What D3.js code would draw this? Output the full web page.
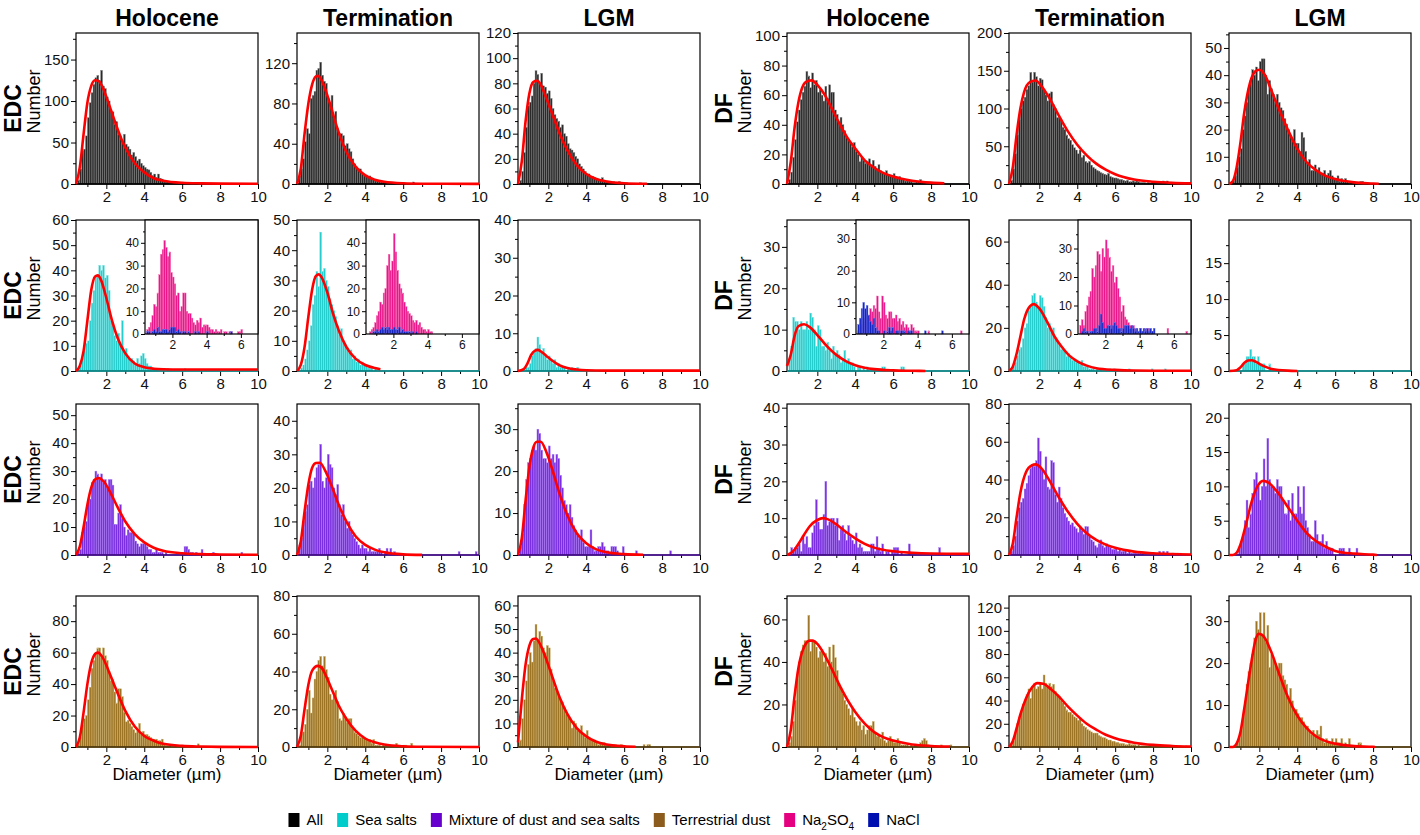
<!DOCTYPE html>
<html>
<head>
<meta charset="utf-8">
<title>size distributions</title>
<style>
  body { margin: 0; background: #fff; }
  svg { font-family: "Liberation Sans", Arial, sans-serif; }
</style>
</head>
<body>
<svg width="1420" height="835"></svg>
<script src="https://d3js.org/d3.v7.min.js"></script>
<script>

// histogram bins: 0.1 um wide, first bin starts at 0.4 um
var binStart = 0.4, binWidth = 0.1;

var periods = ["Holocene", "Termination", "LGM", "Holocene", "Termination", "LGM"];
var sites = ["EDC", "DF"];
var legendNames = ["All", "Sea salts", "Mixture of dust and sea salts", "Terrestrial dust", "Na2SO4", "NaCl"];
var xTicks = [2, 4, 6, 8, 10];
var xMinor = [1, 3, 5, 7, 9];
var insetTicks = [2, 4, 6];

// ---- All particles
var edcAllHol = [0,5,18,40,42,58,80,98,110,120, 128,131,125,137,118,115,105,100,88,87, 72,75,60,58,52,60,48,45,42,35, 38,33,28,30,25,22,20,18,17,14, 10,12,8,12,7,6,4,3,3,2, 2,1,1,1,0,1,0,2,0,1];
var edcAllTer = [0,8,15,25,42,55,50,85,88,92, 113,115,121,108,102,100,85,80,88,65, 72,55,50,50,48,38,40,35,32,25, 20,17,15,15,10,8,9,7,8,6, 5,3,3,3,2,2,2,1,1,1, 1,1,1,1,1,1,1,0,0,0, 0,2];
var edcAllLgm = [0,3,10,25,45,62,65,70,80,90, 87,80,88,78,77,72,74,68,60,55, 52,50,45,47,40,38,32,28,27,25, 22,20,16,14,12,10,8,8,6,6, 5,4,4,3,5,3,2,2,2,1, 2,1,1,2,1,0,1,1,0,0, 0,0,0,0,1];
var dfAllHol = [0,3,8,18,30,42,50,57,62,66, 76,73,65,75,67,70,62,64,60,56, 66,58,67,62,62,50,47,42,45,40, 36,32,30,28,25,28,22,20,15,18, 16,14,15,17,13,16,12,10,13,9, 8,7,9,6,6,5,7,5,4,5, 3,3,2,2,2,2,1,1,2,2, 3,2,1,0,0,1,0,0,1,1];
var dfAllTer = [0,5,20,40,65,85,100,110,115,125, 130,148,135,148,142,130,140,138,125,118, 110,120,122,105,100,88,88,85,75,72, 65,60,58,52,48,45,40,45,35,38, 30,28,30,25,22,20,18,17,15,14, 13,12,14,10,9,8,8,7,6,6, 5,4,5,3,3,4,3,4,3,2, 2,2,1,2,1,1,1,1,1,2, 1,4,3,4,1,2,1,1,0,0, 1,2,0,1];
var dfAllLgm = [0,0,1,3,6,10,13,20,25,30, 35,38,42,40,43,38,45,46,46,40, 33,38,35,33,30,33,30,28,27,24, 22,20,18,16,20,15,15,12,19,17, 12,8,9,5,5,7,5,6,4,4, 5,3,4,5,3,2,2,3,1,2, 1,2,1,0,1,1,0,0,0,1, 1];

// ---- Sea salts
var edcSeaHol = [0,1,2,5,8,11,12,20,27,32, 38,38,42,40,42,37,38,32,20,18, 14,12,15,11,20,8,9,6,5,5, 4,3,5,3,6,7,5,3,2,2, 1,1,1,0,0,0,0,0,1,0, 0,0,0,0,0,0,0,1];
var edcSeaTer = [0,0,1,2,4,7,10,15,22,25, 33,28,46,33,34,30,28,24,22,20, 18,15,12,14,10,9,8,6,7,4, 5,3,4,2,3,2,2,1,1,1, 0,1];
var edcSeaLgm = [0,0,0,0,1,1,2,4,5,6, 9,7,5,6,4,3,4,3,2,3, 1,2,1,1,1,0,1,0,1,0, 0,1];
var dfSeaHol = [0,3,6,13,12,12,10,12,10,10, 12,10,14,13,10,6,11,10,6,6, 5,7,5,3,6,4,5,4,2,3, 5,2,3,2,2,1,0,1,1,0, 1,0,1,0,0,0,0,0,0,0, 1,1,0,0,0,0,0,0,0,0, 1,1];
var dfSeaTer = [0,1,2,4,7,10,11,15,20,22, 28,30,35,36,32,30,35,34,30,25, 20,22,18,20,15,14,12,10,11,9, 7,8,6,5,5,4,4,3,5,2, 2,2,1,1,1,0,1,0,1,0, 0,0,0,1,0,1,0,0,0,0, 0,0,0,1,0,0,0,0,0,0, 0,0,0,0,0,1,0,0,0,0, 0,0,1];
var dfSeaLgm = [0,0,0,0,0,0,0,1,1,2, 2,3,2,2,1,2,1,1,1,0, 0,1];

// ---- inset sea salt types (Na2SO4, NaCl)
var edcHolNa2so4 = [0,2,3,5,8,13,12,18,26,35, 37,41,38,34,36,27,25,22,17,18, 10,12,18,18,10,9,9,7,5,4, 6,5,7,3,4,4,4,3,2,2, 1,2,1,1,2,0,1,1,0,1, 1,0,0,0,1,1,2];
var edcHolNacl = [0,1,1,0,1,2,1,3,1,1, 2,2,2,1,2,3,3,3,1,2, 1,0,1,1,0,1,0,0,0,1, 0,1,0,0,0,0,1,0,0,0, 0,0,0,0,0,0,0,0,0,0, 1];
var edcTerNa2so4 = [0,0,1,2,3,5,8,10,14,13, 18,20,30,35,28,32,44,36,28,22, 20,18,14,12,10,9,8,6,5,6, 4,5,3,2,2,1,2,1,1];
var edcTerNacl = [0,0,0,0,1,1,2,1,2,3, 2,3,2,3,2,2,3,2,2,3, 1,2,1,1,1,1,0,1,0,1];
var dfHolNa2so4 = [0,1,2,3,5,4,6,5,8,7, 9,8,12,7,5,12,10,6,5,7, 7,5,5,6,4,5,3,4,2,3, 2,1,3,2,1,1,1,0,0,0, 0,0,1,0,0,0,0,0,0,0, 0,0,0,0,0,0,0,0,0,0, 0,1];
var dfHolNacl = [0,3,5,8,10,8,9,6,4,3, 5,2,1,1,0,0,1,0,1,2, 1,2,0,1,1,0,1,1,1,0, 1,1,1,0,0,0,0,0,0,0, 1,0,0,0,0,0,0,0,0,0, 1];
var dfTerNa2so4 = [0,3,5,3,8,10,13,15,23,20, 24,29,28,22,30,27,33,30,27,22, 24,18,20,16,13,8,10,6,5,4, 3,2,3,2,1,1,2,1,0,2, 1,2,1,1,0,0,0,0,0,0, 0,0,2,0,0,0,0,0,0,0, 0,0,0,1];
var dfTerNacl = [0,0,1,2,1,1,0,1,1,2, 2,1,3,7,4,2,2,3,3,2, 3,4,3,2,2,1,2,3,3,3, 2,3,2,1,2,1,2,1,2,1, 2,1,2,1,2];

// ---- Mixture of dust and sea salts
var edcMixHol = [0,1,2,8,10,12,19,20,26,27, 30,29,27,29,26,27,24,27,27,25, 11,11,15,18,13,10,7,9,8,8, 8,5,4,3,4,4,4,3,2,2, 1,1,2,1,1,1,0,1,0,0, 0,0,0,0,0,0,0,3,3,2, 1,1,0,1,0,0,2,0,0,0, 0,0,1,0,0,0,0,0,0,0, 0,0,0,0,0,0,0,1];
var edcMixTer = [0,3,5,10,13,15,21,22,20,23, 26,27,33,22,20,23,30,27,26,20, 18,21,15,12,15,10,8,10,7,6, 5,4,3,2,3,2,2,1,2,1, 1,1,1,2,1,0,1,2,0,2, 0,1,0,0,0,0,0,0,0,0, 0,0,0,0,0,0,0,0,0,0, 0,0,0,0,0,0,0,0,0,0, 0,0,0,0,0,1,0,0,0,0, 0,0,0,0,1];
var edcMixLgm = [0,2,5,12,18,22,23,25,26,25, 30,29,25,23,23,22,26,23,24,22, 24,23,19,16,13,12,10,12,9,7, 6,5,4,6,3,2,2,2,6,2, 1,1,2,2,3,2,1,1,0,2, 2,2,1,0,0,2,0,0,0,0, 0,0,1,0,0,0,0,0,0,0, 0,0,0,0,0,0,0,0,0,0, 1];
var dfMixHol = [0,0,2,1,2,2,3,1,5,3, 5,2,2,6,8,15,9,7,7,11, 20,8,9,10,10,8,10,4,7,8, 6,4,8,5,4,3,6,2,3,2, 1,1,1,1,3,3,1,5,2,1, 3,0,1,1,0,1,2,2,2,0, 1,0,0,0,3,0,0,0,0,0, 0,0,0,0,0,0,0,0,0,0, 2];
var dfMixTer = [0,2,5,10,18,25,28,30,35,38, 42,46,48,47,50,62,55,45,40,52, 36,35,50,49,32,28,36,30,25,22, 20,18,16,17,15,14,12,15,13,11, 15,15,10,8,7,5,4,6,8,5, 4,6,5,4,3,3,4,2,3,2, 2,3,1,2,1,1,2,1,1,2, 1,0,0,0,0,0,0,0,0,2, 1,2,1,2,0,0,1,0,0,1, 1];
var dfMixLgm = [0,0,0,0,0,1,2,3,5,8, 4,6,9,11,12,10,8,10,14,10, 17,11,10,10,9,11,10,10,8,6, 6,8,5,9,6,6,10,7,6,10, 5,4,3,2,2,5,3,2,2,3, 1,2,1,1,1,0,0,0,1,1, 1,0,0,1,0,0,0,1];

// ---- Terrestrial dust
var edcTerHol = [0,2,6,14,18,20,30,38,50,55, 60,63,63,57,63,58,55,48,42,43, 35,28,37,37,32,22,16,17,15,13, 11,9,10,15,8,10,8,8,7,6, 5,5,5,4,4,5,2,1,1,1, 0,0,1,0,0,0,0,0,0,0, 0,0,0,0,2];
var edcTerTer = [0,1,7,8,12,20,30,18,26,36, 40,46,48,43,48,41,37,28,25,27, 30,24,15,14,18,16,13,15,15,10, 8,7,6,5,5,5,4,4,4,2, 4,1,1,1,0,1,0,0,0,1, 1,1,2,1,0,0,1,1,0,0, 2];
var edcTerLgm = [2,3,12,20,28,35,40,36,45,52, 45,49,47,42,40,43,42,33,28,25, 24,22,20,19,17,14,13,12,8,11, 10,7,7,9,5,4,7,4,3,3, 3,2,1,2,2,2,1,1,1,0, 1,1,0,0,1,0,0,0,0,0, 0,0,0,0,0,0,1,0,1,1];
var dfTerHol = [0,2,5,12,22,32,40,45,48,50, 50,62,45,50,50,47,42,45,46,40, 44,38,47,40,48,42,36,30,28,25, 22,20,18,15,18,14,12,10,12,8, 10,6,8,10,10,12,7,5,6,4, 7,3,2,3,5,3,2,2,4,2, 1,1,1,1,0,1,0,1,1,1, 2,3,4,3,1,0,0,0,0,0, 0,1,0,0,0,0,1];
var dfTerTer = [0,2,5,12,20,25,30,37,40,45, 50,42,52,55,50,52,55,50,62,55, 52,55,52,54,48,45,44,40,38,35, 32,30,30,28,26,25,23,25,20,18, 17,15,14,13,12,12,12,10,9,8, 8,7,6,6,5,5,4,4,3,3, 3,2,2,3,2,2,2,1,2,1, 1,1,1,1,1,0,0,1,1,1, 1,0,0,0,0,0,0,0,0,0, 1,0,0,1];
var dfTerLgm = [0,0,0,0,1,2,4,7,10,15, 18,20,22,26,30,28,32,27,32,25, 29,19,22,21,20,19,20,20,17,16, 15,12,14,11,9,9,8,7,7,6, 5,5,4,3,4,3,4,3,5,2, 1,2,1,1,2,1,2,1,1,2, 0,1,0,2,0,0,0,0,1,1];

// ---- fitted curves, [diameter, number]
var fitEdcAllHol = [[0.4,0],[0.6,20],[0.8,60],[1.0,98],[1.2,118],[1.4,125],[1.6,124],[1.8,117],[2.0,105],[2.2,92],[2.5,72],[2.8,54],[3.0,44],[3.5,25],[4.0,14],[4.5,7],[5,4],[6,1.5],[7,0.8],[8,0.5],[10,0.3]];
var fitEdcAllTer = [[0.4,0],[0.6,15],[0.8,50],[1.0,80],[1.2,99],[1.4,107],[1.5,107.5],[1.7,103],[2.0,88],[2.2,76],[2.5,57],[2.8,41],[3.0,32],[3.5,17],[4.0,8.5],[4.5,4.3],[5,2.2],[6,0.7],[7,0.3],[10,0.1]];
var fitEdcAllLgm = [[0.4,0],[0.6,18],[0.8,50],[1.0,72],[1.2,81],[1.4,82],[1.6,79],[1.8,72],[2.0,64],[2.3,52],[2.6,40],[3.0,27],[3.5,15],[4.0,8],[4.5,4.2],[5,2.2],[6,0.6],[7,0.2],[7.2,0.15]];
var fitDfAllHol = [[0.4,0],[0.6,15],[0.8,38],[1.0,55],[1.2,65],[1.4,69],[1.7,70],[2.0,67],[2.4,60],[2.8,50],[3.2,40],[3.6,31],[4.0,24],[4.5,16],[5,11],[5.5,7.3],[6,5],[7,2.2],[8,0.9],[8.7,0.5]];
var fitDfAllTer = [[0.4,0],[0.6,22],[0.8,65],[1.0,100],[1.2,122],[1.5,135],[1.8,137],[2.1,130],[2.5,115],[3.0,92],[3.5,70],[4.0,52],[4.5,38],[5,27],[5.5,19],[6,13],[7,6],[8,3],[9,1.5],[10,0.8]];
var fitDfAllLgm = [[0.4,0],[0.6,1],[0.8,6],[1.0,15],[1.2,26],[1.5,37],[1.8,41.5],[2.0,42],[2.3,40],[2.6,35],[3.0,28],[3.5,20],[4.0,13],[4.5,8],[5,5],[5.5,3],[6,1.8],[7,0.6],[8,0.2],[8.3,0.1]];

var fitEdcSeaHol = [[0.4,0],[0.6,2],[0.8,8],[1.0,20],[1.2,32],[1.4,37.5],[1.55,38],[1.7,36.5],[2.0,29],[2.3,20],[2.6,13],[3.0,7],[3.5,3],[4.0,1.5],[4.5,0.9],[5,0.7],[6,0.6],[10,0.6]];
var fitEdcSeaTer = [[0.4,0],[0.6,2],[0.8,8],[1.0,18],[1.2,27],[1.4,31.5],[1.55,32],[1.7,31],[2.0,26],[2.3,19],[2.6,13.5],[3.0,8],[3.5,4],[4.0,2],[4.5,1],[4.8,0.6]];
var fitEdcSeaLgm = [[0.4,0],[0.7,0.5],[0.9,2],[1.1,4.3],[1.3,5.4],[1.45,5.6],[1.6,5.2],[1.9,4],[2.2,2.8],[2.6,1.5],[3.0,0.8],[3.5,0.4],[4,0.2],[5,0.1],[10,0.1]];
var fitDfSeaHol = [[0.4,1.2],[0.6,4],[0.8,8.5],[1.0,10.8],[1.3,11.3],[1.6,10.6],[2.0,8.7],[2.5,6],[3.0,3.9],[3.5,2.4],[4.0,1.4],[4.5,0.8],[5,0.45],[6,0.15],[7,0.05],[7.7,0]];
var fitDfSeaTer = [[0.4,0],[0.6,2],[0.8,8],[1.0,16],[1.2,24],[1.5,30],[1.7,31],[2.0,29],[2.4,23],[2.8,16],[3.2,11],[3.6,7],[4.0,4.5],[4.5,2.5],[5,1.3],[6,0.5],[7,0.2],[10,0.1]];
var fitDfSeaLgm = [[0.4,0],[0.8,0.1],[1.0,0.5],[1.2,1.1],[1.4,1.45],[1.6,1.5],[1.8,1.3],[2.0,1.0],[2.3,0.6],[2.6,0.3],[3.0,0.15],[3.5,0.05],[4,0]];

var fitEdcMixHol = [[0.4,0],[0.6,3],[0.8,10],[1.0,18],[1.2,24],[1.4,27],[1.6,27.5],[1.9,26],[2.2,22.5],[2.6,17],[3.0,12],[3.5,7.5],[4.0,4.5],[4.5,2.6],[5,1.5],[6,0.6],[7,0.3],[8,0.2],[10,0.1]];
var fitEdcMixTer = [[0.4,0],[0.6,4],[0.8,13],[1.0,21],[1.2,26],[1.4,27.4],[1.6,27.5],[1.9,25],[2.2,21],[2.6,15],[3.0,10],[3.5,5.5],[4.0,3],[4.5,1.6],[5,0.8],[6,0.2],[7,0.05]];
var fitEdcMixLgm = [[0.4,0],[0.6,4],[0.8,13],[1.0,21],[1.2,25.5],[1.4,27],[1.6,27],[1.9,24.5],[2.2,20.5],[2.6,14.5],[3.0,9.5],[3.5,5.2],[4.0,2.8],[4.5,1.4],[5,0.7],[6,0.2],[7,0.05]];
var fitDfMixHol = [[0.4,0],[0.6,0.5],[0.8,1.5],[1.0,3],[1.3,5.5],[1.6,7.8],[2.0,9.5],[2.3,10],[2.6,9.6],[3.0,8.3],[3.5,6.3],[4.0,4.5],[4.5,3],[5,2],[6,1],[7,0.6],[8,0.4],[10,0.3]];
var fitDfMixTer = [[0.4,0],[0.6,6],[0.8,20],[1.0,33],[1.3,44],[1.6,47.5],[1.8,48],[2.1,46],[2.5,40],[3.0,31],[3.5,23],[4.0,16.5],[4.5,11.5],[5,8],[5.5,5.5],[6,3.8],[7,1.8],[8,0.9],[9,0.5],[10,0.3]];
var fitDfMixLgm = [[0.4,0],[0.6,0],[0.8,0.3],[1.0,1.5],[1.3,4.5],[1.6,7.8],[1.9,10],[2.2,10.8],[2.5,10.5],[3.0,9],[3.5,7],[4.0,5],[4.5,3.2],[5,2],[5.5,1.2],[6,0.6],[7,0.2],[8,0.05],[8.2,0]];

var fitEdcTerHol = [[0.4,0],[0.6,6],[0.8,22],[1.0,40],[1.2,53],[1.4,59],[1.55,60],[1.8,57],[2.1,49],[2.5,37],[3.0,23],[3.5,13],[4.0,7],[4.5,4],[5,2],[6,0.7],[7,0.3],[8,0.1],[10,0]];
var fitEdcTerTer = [[0.4,0],[0.6,6],[0.8,20],[1.0,33],[1.2,40.5],[1.5,43],[1.7,42],[2.0,36],[2.3,29],[2.6,22],[3.0,15],[3.5,8.5],[4.0,4.5],[4.5,2.5],[5,1.3],[6,0.4],[7,0.15],[10,0]];
var fitEdcTerLgm = [[0.4,2],[0.6,20],[0.8,35],[1.0,43],[1.2,45.8],[1.35,46],[1.6,43],[1.9,37],[2.2,30],[2.6,21],[3.0,14],[3.5,8],[4.0,4.5],[4.5,2.3],[5,1.2],[6,0.3],[6.6,0.1]];
var fitDfTerHol = [[0.4,0],[0.6,8],[0.8,24],[1.0,37],[1.3,47],[1.6,50],[1.75,50],[2.0,48.5],[2.4,43],[2.8,36],[3.2,28.5],[3.6,22],[4.0,16.5],[4.5,11],[5,7],[5.5,4.5],[6,3],[7,1.2],[8,0.5],[9,0.2]];
var fitDfTerTer = [[0.4,0],[0.6,5],[0.8,16],[1.0,28],[1.3,42],[1.6,51],[1.9,55],[2.2,54.5],[2.6,50],[3.0,44],[3.5,35],[4.0,27],[4.5,20],[5,15],[5.5,10.5],[6,7.5],[7,3.7],[8,1.8],[9,0.9],[10,0.4]];
var fitDfTerLgm = [[0.4,0],[0.6,0],[0.8,0.8],[1.0,3.5],[1.2,9],[1.5,18],[1.8,25.5],[1.95,27],[2.2,26.5],[2.6,23],[3.0,18],[3.5,12],[4.0,7.5],[4.5,4.5],[5,2.5],[5.5,1.4],[6,0.8],[7,0.2],[8,0.05],[8.1,0]];

// y axis ranges and ticks per panel (rows = particle group, cols = site x period)
var yMaxGrid = [
  [182, 150, 120, 102, 200, 55.5],
  [60, 50, 40, 36.5, 70, 21],
  [54, 45, 36, 41, 80, 22],
  [96, 80, 64, 71, 130, 36]
];
var yTickGrid = [
  [[0,50,100,150], [0,40,80,120], [0,20,40,60,80,100,120], [0,20,40,60,80,100], [0,50,100,150,200], [0,10,20,30,40,50]],
  [[0,10,20,30,40,50,60], [0,10,20,30,40,50], [0,10,20,30,40], [0,10,20,30], [0,20,40,60], [0,5,10,15]],
  [[0,10,20,30,40,50], [0,10,20,30,40], [0,10,20,30], [0,10,20,30,40], [0,20,40,60,80], [0,5,10,15,20]],
  [[0,20,40,60,80], [0,20,40,60,80], [0,10,20,30,40,50,60], [0,20,40,60], [0,20,40,60,80,100,120], [0,10,20,30]]
];

var countsGrid = [
  [edcAllHol, edcAllTer, edcAllLgm, dfAllHol, dfAllTer, dfAllLgm],
  [edcSeaHol, edcSeaTer, edcSeaLgm, dfSeaHol, dfSeaTer, dfSeaLgm],
  [edcMixHol, edcMixTer, edcMixLgm, dfMixHol, dfMixTer, dfMixLgm],
  [edcTerHol, edcTerTer, edcTerLgm, dfTerHol, dfTerTer, dfTerLgm]
];
var fitGrid = [
  [fitEdcAllHol, fitEdcAllTer, fitEdcAllLgm, fitDfAllHol, fitDfAllTer, fitDfAllLgm],
  [fitEdcSeaHol, fitEdcSeaTer, fitEdcSeaLgm, fitDfSeaHol, fitDfSeaTer, fitDfSeaLgm],
  [fitEdcMixHol, fitEdcMixTer, fitEdcMixLgm, fitDfMixHol, fitDfMixTer, fitDfMixLgm],
  [fitEdcTerHol, fitEdcTerTer, fitEdcTerLgm, fitDfTerHol, fitDfTerTer, fitDfTerLgm]
];

var insets = [
  {col: 0, na: edcHolNa2so4, cl: edcHolNacl, yMax: 50, yTicks: [0,10,20,30,40]},
  {col: 1, na: edcTerNa2so4, cl: edcTerNacl, yMax: 50, yTicks: [0,10,20,30,40]},
  {col: 3, na: dfHolNa2so4, cl: dfHolNacl, yMax: 36, yTicks: [0,10,20,30]},
  {col: 4, na: dfTerNa2so4, cl: dfTerNacl, yMax: 40, yTicks: [0,10,20,30]}
];

// styles
var rowStyle = [
  {fill: "#2a2a2a", stroke: "#8a8a8a", base: "#000"},
  {fill: "#25cdcd", stroke: "#93e9e9", base: "#0a9d9d"},
  {fill: "#7a2ee0", stroke: "#ae86f0", base: "#4d0c9c"},
  {fill: "#9c7424", stroke: "#d0b476", base: "#5e430f"}
];
var naStyle = {fill: "#e8168a", stroke: "#f47cbc"};
var clStyle = {fill: "#1424c2", stroke: "#6775e8"};
var legendColors = ["#000000", "#00cccc", "#6600cc", "#8c5c1f", "#e4007f", "#0010b0"];

var svg = d3.select("svg");
var colLeft = [76, 297, 518, 787, 1009, 1229];
var rowTop = [33, 220, 404, 596];
var panelW = 182, panelH = 151;
var insetW = 113, insetH = 114;

function drawBars(g, counts, x, y, st) {
  var bins = counts.map(function(n, i) { return {x0: binStart + i * binWidth, n: n}; })
    .filter(function(d) { return d.n > 0; });
  var bw = x(binStart + binWidth) - x(binStart);
  g.append("g").selectAll("rect")
    .data(bins)
    .join("rect")
      .attr("x", function(d) { return x(d.x0); })
      .attr("y", function(d) { return y(d.n); })
      .attr("width", bw)
      .attr("height", function(d) { return y(0) - y(d.n); })
      .attr("fill", st.fill)
      .attr("stroke", st.stroke)
      .attr("stroke-width", 0.4);
}

function styleAxis(a, size) {
  a.select(".domain").remove();
  a.attr("font-family", null).attr("font-size", size);
  a.selectAll("line").attr("stroke", "#000").attr("stroke-width", 1);
  a.selectAll("text").attr("fill", "#111");
}

function drawAxes(g, x, y, w, h, yTicks, yMax, xt, xm, size, major, minor) {
  var step = yTicks[1] - yTicks[0];
  var yMinor = d3.range(step / 2, yMax, step);
  g.append("g").call(d3.axisLeft(y).tickValues(yMinor).tickSize(minor).tickFormat(""))
    .call(styleAxis, size);
  g.append("g").call(d3.axisLeft(y).tickValues(yTicks).tickSize(major).tickPadding(2).tickFormat(d3.format("d")))
    .call(styleAxis, size);
  g.append("g").attr("transform", "translate(0," + h + ")")
    .call(d3.axisBottom(x).tickValues(xm).tickSize(minor).tickFormat(""))
    .call(styleAxis, size);
  g.append("g").attr("transform", "translate(0," + h + ")")
    .call(d3.axisBottom(x).tickValues(xt).tickSize(major).tickPadding(2).tickFormat(d3.format("d")))
    .call(styleAxis, size);
  g.append("rect").attr("width", w).attr("height", h)
    .attr("fill", "none").attr("stroke", "#000").attr("stroke-width", 1.2);
}

function drawPanel(r, c) {
  var g = svg.append("g").attr("transform", "translate(" + colLeft[c] + "," + rowTop[r] + ")");
  var x = d3.scaleLinear().domain([0.4, 10]).range([0, panelW]);
  var y = d3.scaleLinear().domain([0, yMaxGrid[r][c]]).range([panelH, 0]);
  var st = rowStyle[r];

  drawBars(g, countsGrid[r][c], x, y, st);
  drawAxes(g, x, y, panelW, panelH, yTickGrid[r][c], yMaxGrid[r][c], xTicks, xMinor, 15, 5, 3);

  // empty bins leave the series outline along the baseline
  g.append("line")
    .attr("x1", 0).attr("x2", panelW)
    .attr("y1", panelH).attr("y2", panelH)
    .attr("stroke", st.base).attr("stroke-width", 1.4);

  var line = d3.line()
    .curve(d3.curveMonotoneX)
    .x(function(d) { return x(d[0]); })
    .y(function(d) { return y(d[1]); });
  g.append("path")
    .datum(fitGrid[r][c])
    .attr("fill", "none")
    .attr("stroke", "#ff0000")
    .attr("stroke-width", 2.6)
    .attr("stroke-linejoin", "round")
    .attr("d", line);
  return g;
}

var panelGroups = [];
for (var r = 0; r < 4; r++) {
  panelGroups.push([]);
  for (var c = 0; c < 6; c++) panelGroups[r].push(drawPanel(r, c));
}

// insets with Na2SO4 / NaCl for the sea salt row
insets.forEach(function(ins) {
  var ig = panelGroups[1][ins.col].append("g")
    .attr("transform", "translate(" + (panelW - insetW) + ",0)");
  var x = d3.scaleLinear().domain([0.4, 7]).range([0, insetW]);
  var y = d3.scaleLinear().domain([0, ins.yMax]).range([insetH, 0]);
  ig.append("rect").attr("width", insetW).attr("height", insetH).attr("fill", "#fff");
  drawBars(ig, ins.na, x, y, naStyle);
  drawBars(ig, ins.cl, x, y, clStyle);
  drawAxes(ig, x, y, insetW, insetH, ins.yTicks, ins.yMax, insetTicks, [1, 3, 5], 12, 4, 2);
});

// column titles
periods.forEach(function(p, c) {
  svg.append("text")
    .attr("x", colLeft[c] + panelW / 2)
    .attr("y", 26)
    .attr("text-anchor", "middle")
    .attr("font-size", 23)
    .attr("font-weight", "bold")
    .text(p);
});

// row labels
rowTop.forEach(function(t) {
  [0, 3].forEach(function(c, s) {
    var cy = t + panelH / 2;
    svg.append("text")
      .attr("transform", "translate(" + (colLeft[c] - 55) + "," + cy + ") rotate(-90)")
      .attr("text-anchor", "middle")
      .attr("font-size", 23)
      .attr("font-weight", "bold")
      .text(sites[s]);
    svg.append("text")
      .attr("transform", "translate(" + (colLeft[c] - 36) + "," + (cy - 7) + ") rotate(-90)")
      .attr("text-anchor", "middle")
      .attr("font-size", 18)
      .text("Number");
  });
});

// x axis titles
colLeft.forEach(function(l) {
  svg.append("text")
    .attr("x", l + panelW / 2)
    .attr("y", rowTop[3] + panelH + 33)
    .attr("text-anchor", "middle")
    .attr("font-size", 17)
    .text("Diameter (\u00b5m)");
});

// legend
var legend = svg.append("g").attr("font-size", 15);
var lx = 0;
legendNames.forEach(function(name, i) {
  var item = legend.append("g").attr("transform", "translate(" + lx + ",0)");
  item.append("rect").attr("x", 0).attr("y", -12).attr("width", 11).attr("height", 14)
    .attr("fill", legendColors[i]);
  var t = item.append("text").attr("x", 18).attr("y", 0);
  if (name === "Na2SO4") {
    t.append("tspan").text("Na");
    t.append("tspan").attr("font-size", 10).attr("dy", 5).text("2");
    t.append("tspan").attr("dy", -5).text("SO");
    t.append("tspan").attr("font-size", 10).attr("dy", 5).text("4");
  } else {
    t.text(name);
  }
  lx += 18 + t.node().getComputedTextLength() + 14;
});
var legendWidth = lx - 14;
legend.attr("transform", "translate(" + (604 - legendWidth / 2) + ",825)");

</script>
</body>
</html>
